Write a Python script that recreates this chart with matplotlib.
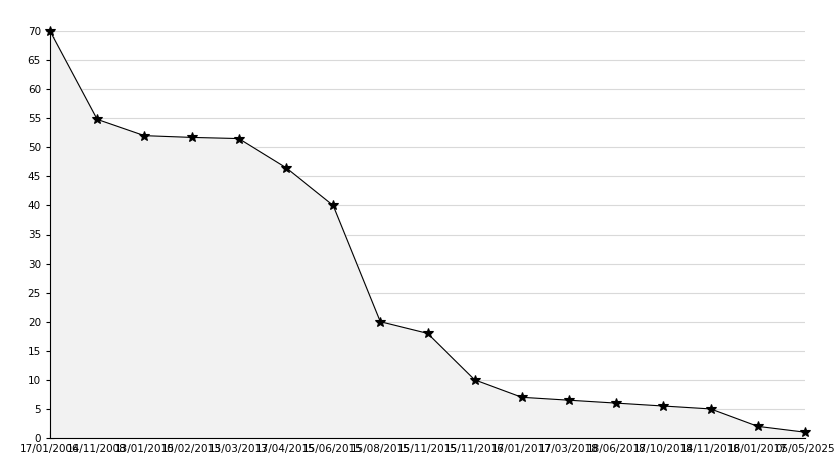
import matplotlib
matplotlib.use("Agg")
import matplotlib.pyplot as plt
import numpy as np
from matplotlib.ticker import MultipleLocator

# dates along the x axis (labels overlap in the original too)
dates = ["17/01/2006", "14/11/2008", "13/01/2010", "15/02/2013", "15/03/2013",
         "17/04/2015", "15/06/2015", "15/08/2015", "15/11/2015", "15/11/2016",
         "17/01/2017", "17/03/2018", "18/06/2018", "17/10/2018", "14/11/2018",
         "16/01/2017", "05/05/2025"]
values = [70, 54.8, 52, 51.7, 51.5, 46.5, 40, 20, 18, 10, 7, 6.5, 6, 5.5, 5, 2, 1]


def main():
    x = np.arange(len(values))
    fig = plt.figure(figsize=(8.34, 4.68), dpi=100)
    ax = fig.add_axes([50/834, 30/468, 755/834, 407/468])

    ax.fill_between(x, values, 0, color="#f2f2f2", zorder=1)
    ax.plot(x, values, color="black", linewidth=0.8, zorder=3, clip_on=False)
    ax.plot(x, values, linestyle="none", marker="*", markersize=7,
            markeredgewidth=0.8, color="black", zorder=4, clip_on=False)

    ax.set_xlim(0, len(values) - 1)
    ax.set_ylim(0, 70)
    ax.yaxis.set_major_locator(MultipleLocator(5))
    ax.yaxis.set_minor_locator(MultipleLocator(1))
    ax.grid(axis="y", color="#d9d9d9", linewidth=0.8, zorder=0)
    ax.set_axisbelow(True)

    ax.set_xticks(x)
    ax.set_xticklabels(dates)
    ax.tick_params(axis="x", direction="in", length=5, labelsize=7.5, pad=4)
    ax.tick_params(axis="y", which="major", direction="inout", length=6, labelsize=7.5)
    ax.tick_params(axis="y", which="minor", direction="in", length=3)

    for s in ["top", "right"]:
        ax.spines[s].set_visible(False)
    ax.spines["left"].set_linewidth(0.8)
    ax.spines["bottom"].set_linewidth(0.8)

    fig.savefig("out.png", dpi=100)


if __name__ == "__main__":
    main()
